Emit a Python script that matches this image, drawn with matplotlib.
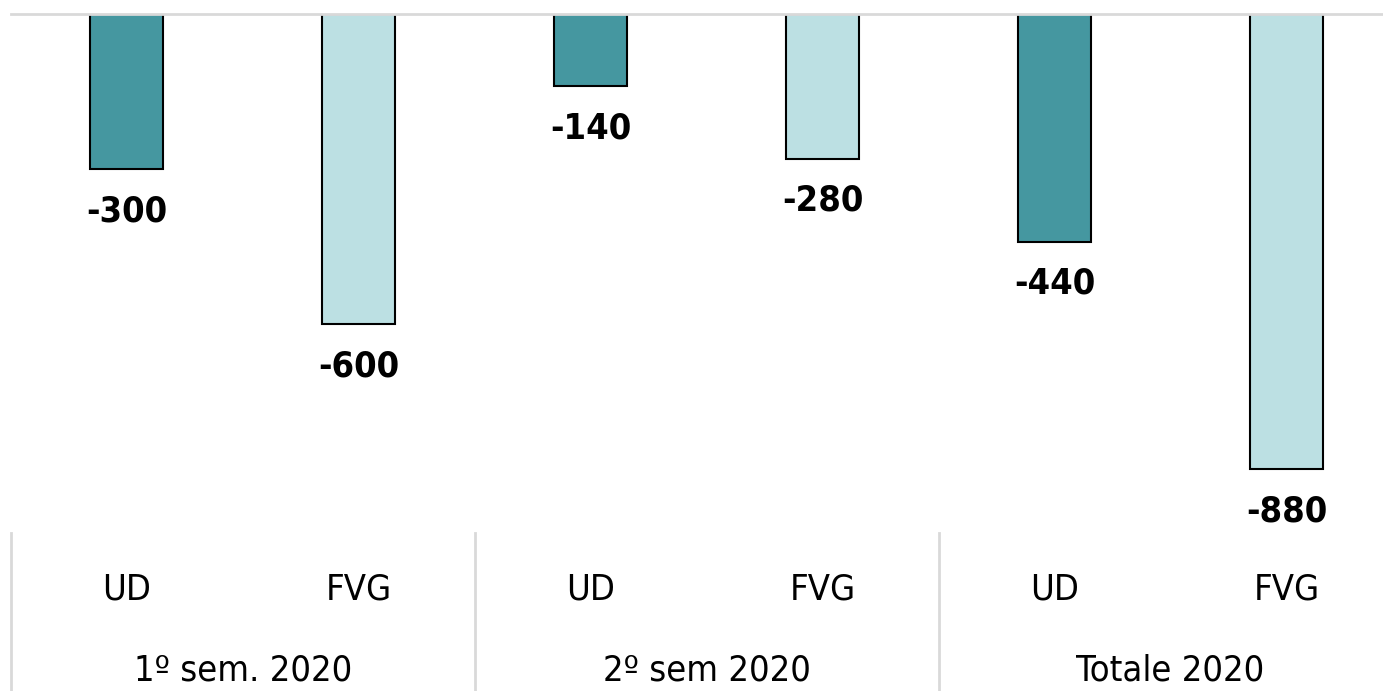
import matplotlib.pyplot as plt

# Data
categories = ['UD', 'FVG', 'UD', 'FVG', 'UD', 'FVG']
groups = ['1º sem. 2020', '2º sem 2020', 'Totale 2020']
values = [-300, -600, -140, -280, -440, -880]
colors = ['#4597a0', '#bce0e3'] * 3

font = ['DejaVu Sans']

fig = plt.figure(figsize=(13.83, 6.91), dpi=100)
W, H = 1383, 691
# axes spans from the zero line (y=14px) down to where the separators start (y=533px)
ax = fig.add_axes([11 / W, (H - 533) / H, 1 - 11 / W, (533 - 14) / H])

x = list(range(len(values)))
bars = ax.bar(x, values, width=0.315, color=colors, edgecolor='black', linewidth=1.5)

for xi, v in zip(x, values):
    ax.annotate(f'{v}', (xi, v), xytext=(0, -18), textcoords='offset points',
                ha='center', va='top', fontsize=26, fontweight='bold', family=font,
                fontstretch='condensed')

ax.set_xlim(-0.5, 5.416)
ax.set_ylim(-1003, 0)

for s in ['left', 'right', 'bottom']:
    ax.spines[s].set_visible(False)
ax.spines['top'].set_color('#d9d9d9')
ax.spines['top'].set_linewidth(2)
ax.set_xticks([])
ax.set_yticks([])

# category labels and group labels below the plot
for xi, c in zip(x, categories):
    ax.text(xi, -0.108, c, transform=ax.get_xaxis_transform(), ha='center', va='center',
            fontsize=26, family=font, fontstretch='condensed')
for gi, g in enumerate(groups):
    ax.text(gi * 2 + 0.5, -0.265, g, transform=ax.get_xaxis_transform(), ha='center', va='center',
            fontsize=26, family=font, fontstretch='condensed')

# separators between groups
for sx in [-0.5, 1.5, 3.5]:
    ax.plot([sx, sx], [0, -0.31], transform=ax.get_xaxis_transform(), color='#d9d9d9',
            linewidth=2, clip_on=False)

plt.savefig('out.png', dpi=100)
